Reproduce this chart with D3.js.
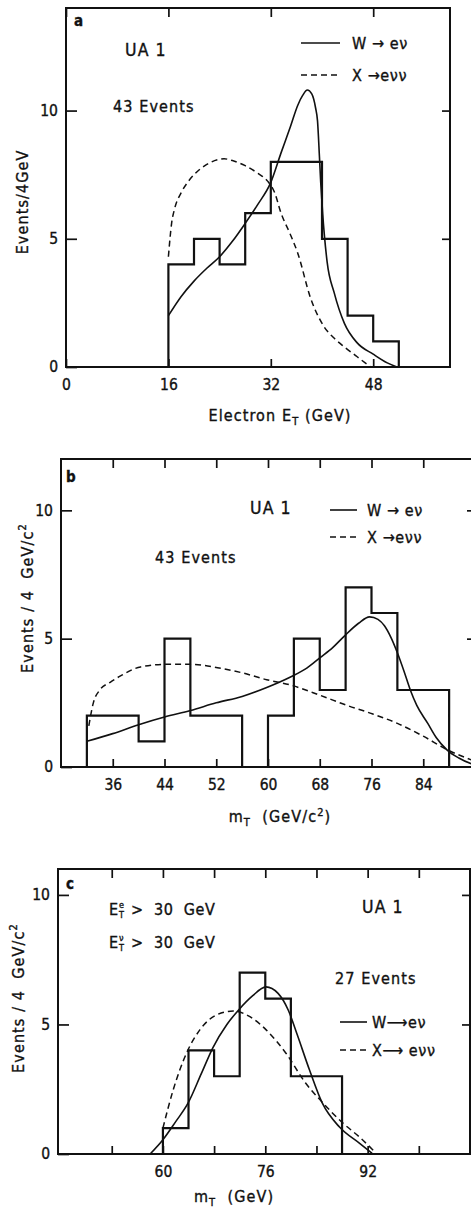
<!DOCTYPE html>
<html>
<head>
<meta charset="utf-8">
<script src="https://cdn.jsdelivr.net/npm/d3@7"></script>
<style>
  html, body { margin: 0; padding: 0; background: #fff; }
  svg text { font-family: "Liberation Sans Narrow", "DejaVu Sans Condensed", "Roboto Condensed", "Liberation Sans", sans-serif; font-stretch: condensed; fill: #111; stroke: #111; stroke-width: 0.35px; white-space: pre; }
  svg text.lbl { letter-spacing: 1.1px; }
  svg text.leg { letter-spacing: 0.6px; }
</style>
</head>
<body>
<svg id="chart" width="471" height="1211"></svg>
<script>
// ---------- Panel a : Electron E_T ----------
const aBins   = [16, 20, 24, 28, 32, 36, 40, 44, 48];
const aCounts = [4, 5, 4, 6, 8, 8, 5, 2, 1];
const aWcurve = [[16,2.0],[18,2.75],[20,3.35],[22,3.85],[24,4.3],[26,4.9],[28,5.6],[30,6.35],[32,7.2],[33.6,8.35],[35.1,9.4],[36.2,10.2],[37,10.6],[37.7,10.8],[38.4,10.65],[39,10.1],[39.3,9.6],[39.6,8.2],[39.8,7.2],[40.1,6.0],[40.8,4.1],[41.9,2.9],[43.5,1.7],[45.5,0.94],[48,0.5],[50.2,0.16],[51.7,0.0]];
const aXcurve = [[16,4.3],[16.5,5.6],[17,6.2],[18,6.8],[19,7.2],[20,7.5],[22,7.9],[24,8.1],[24.7,8.12],[26,8.05],[28,7.85],[30,7.55],[31.5,7.25],[32.6,6.8],[33.6,6.0],[35,5.2],[36.2,4.45],[38.2,2.7],[40.3,1.58],[42,1.1],[43.5,0.78],[45.5,0.4],[46.8,0.15],[47.6,0.0]];
const aXTickMarks  = [0, 16, 32, 48];
const aXTickLabels = [0, 16, 32, 48];
const aYTicks = [0, 5, 10];
const aLegend = ["W \u2192 e\u03bd", "X \u2192e\u03bd\u03bd"];

// ---------- Panel b : m_T (GeV/c^2) ----------
const bBins   = [32, 36, 40, 44, 48, 52, 56, 60, 64, 68, 72, 76, 80, 84];
const bCounts = [2, 2, 1, 5, 2, 2, 0, 2, 5, 3, 7, 6, 3, 3];
const bWcurve = [[32,1.0],[36,1.3],[40,1.65],[44,1.95],[48,2.2],[52,2.5],[56,2.75],[59.8,3.1],[63.4,3.5],[66,3.85],[68,4.25],[70,4.65],[71.8,5.1],[74,5.6],[75.7,5.85],[77,5.75],[78,5.5],[79,5.05],[80,4.45],[81,3.75],[82,3.0],[83,2.4],[84.7,1.7],[86,1.15],[87.7,0.66],[89.5,0.35],[91.5,0.12],[92,0.08]];
const bXcurve = [[32.3,1.6],[33,2.5],[34,3.0],[35.6,3.3],[37.2,3.55],[40.3,3.9],[44.4,4.0],[48,4.0],[52.2,3.87],[56,3.67],[59.8,3.4],[63.4,3.2],[68,2.8],[72.2,2.4],[75.8,2.1],[80,1.7],[84,1.2],[87.8,0.66],[91.5,0.27],[92,0.22]];
const bXTickMarks  = [36, 44, 52, 60, 68, 76, 84];
const bXTickLabels = [36, 44, 52, 60, 68, 76, 84];
const bYTicks = [0, 5, 10];
const bLegend = ["W \u2192 e\u03bd", "X \u2192e\u03bd\u03bd"];

// ---------- Panel c : m_T (GeV), E_T cuts ----------
const cBins   = [60, 64, 68, 72, 76, 80, 84];
const cCounts = [1, 4, 3, 7, 6, 3, 3];
const cWcurve = [[58,0.0],[60,0.55],[62,1.25],[63.9,1.95],[66,3.1],[67.8,4.1],[70,5.0],[71.8,5.55],[74,6.1],[76.1,6.45],[78,6.2],[79.6,5.55],[81,4.6],[82.9,3.25],[84.9,1.97],[87.6,1.04],[90.7,0.42],[92.7,0.03]];
const cXcurve = [[60,1.0],[61.6,2.47],[63.7,3.9],[65.8,4.8],[68.4,5.37],[71,5.52],[73.6,5.3],[76.1,4.8],[79.2,3.9],[82.3,2.74],[84.9,2.0],[88.1,1.2],[90.7,0.66],[93.3,0.04]];
const cXTickMarks  = [52, 60, 68, 76, 84, 92, 100];
const cXTickLabels = [60, 76, 92];
const cYTicks = [0, 5, 10];
const cLegend = ["W\u27F6e\u03bd", "X\u27F6 e\u03bd\u03bd"];

const binWidth = 4;

const svg = d3.select("#chart");

function drawPanel(p) {
  const x = d3.scaleLinear().domain(p.xDomain).range(p.xRange);
  const y = d3.scaleLinear().domain(p.yDomain).range(p.yRange);
  const g = svg.append("g");
  const [x0, x1] = p.xRange, [y0, y1] = p.yRange;

  // frame
  g.append("rect").attr("x", x0).attr("y", y1).attr("width", x1 - x0).attr("height", y0 - y1)
    .attr("fill", "none").attr("stroke", "#111").attr("stroke-width", 2);

  const fmt = labels => d => labels.includes(d) ? d : "";
  g.append("g").attr("transform", `translate(0,${y0})`)
    .call(d3.axisBottom(x).tickValues(p.xTickMarks).tickSize(-8).tickPadding(12).tickFormat(fmt(p.xTickLabels)));
  g.append("g").attr("transform", `translate(0,${y1})`)
    .call(d3.axisTop(x).tickValues(p.xTickMarks).tickSize(-9).tickFormat(""));
  g.append("g").attr("transform", `translate(${x0},0)`)
    .call(d3.axisLeft(y).tickValues(p.yTicks).tickSize(-11).tickPadding(p.yPad).tickFormat(d3.format("d")));
  g.append("g").attr("transform", `translate(${x1},0)`)
    .call(d3.axisRight(y).tickValues(p.yTicks.filter(v => v > 0)).tickSize(-8).tickFormat(""));

  g.selectAll(".domain").remove();
  g.selectAll(".tick line").attr("stroke", "#111").attr("stroke-width", 1.7);
  g.selectAll(".tick text").attr("font-size", 15.5).attr("fill", "#111");

  // histogram
  const pts = [[p.bins[0], 0]];
  p.bins.forEach((b, i) => pts.push([b, p.counts[i]]));
  const last = p.bins[p.bins.length - 1] + binWidth;
  pts.push([last, p.counts[p.counts.length - 1]]);
  pts.push([last, 0]);
  const step = d3.line().x(d => x(d[0])).y(d => y(d[1])).curve(d3.curveStepAfter);
  g.append("path").attr("d", step(pts)).attr("fill", "none").attr("stroke", "#111").attr("stroke-width", 2.2);

  // curves
  const clipId = "clip" + p.name;
  svg.append("clipPath").attr("id", clipId).append("rect")
    .attr("x", x0).attr("y", y1).attr("width", x1 - x0).attr("height", y0 - y1);
  const smooth = d3.line().x(d => x(d[0])).y(d => y(d[1])).curve(d3.curveMonotoneX);
  g.append("path").attr("d", smooth(p.wCurve)).attr("fill", "none").attr("stroke", "#111")
    .attr("stroke-width", 1.6).attr("clip-path", `url(#${clipId})`);
  g.append("path").attr("d", smooth(p.xCurve)).attr("fill", "none").attr("stroke", "#111")
    .attr("stroke-width", 1.5).attr("stroke-dasharray", "6,4").attr("clip-path", `url(#${clipId})`);

  // panel letter
  g.append("text").attr("x", p.letterPos[0]).attr("y", p.letterPos[1]).attr("font-size", 15)
    .attr("font-weight", "bold").text(p.name);

  // y title
  const yt = g.append("text").attr("class", "lbl")
    .attr("transform", `translate(${p.yTitlePos[0]},${p.yTitlePos[1]}) rotate(-90)`)
    .attr("text-anchor", "middle").attr("font-size", 16);
  p.yTitle(yt);

  // x title
  const xt = g.append("text").attr("class", "lbl").attr("x", p.xTitlePos[0]).attr("y", p.xTitlePos[1])
    .attr("text-anchor", "middle").attr("font-size", 16);
  p.xTitle(xt);

  // legend
  const L = p.legend;
  g.append("line").attr("x1", L.x1).attr("x2", L.x2).attr("y1", L.y[0]).attr("y2", L.y[0])
    .attr("stroke", "#111").attr("stroke-width", 1.6);
  g.append("line").attr("x1", L.x1).attr("x2", L.x2).attr("y1", L.y[1]).attr("y2", L.y[1])
    .attr("stroke", "#111").attr("stroke-width", 1.5).attr("stroke-dasharray", "6,4");
  g.append("text").attr("class", "leg").attr("x", L.tx).attr("y", L.y[0] + 6).attr("font-size", 16).text(p.legendLabels[0]);
  g.append("text").attr("class", "leg").attr("x", L.tx).attr("y", L.y[1] + 6).attr("font-size", 16).text(p.legendLabels[1]);

  // annotations
  p.notes.forEach(n => g.append("text").attr("class", "lbl").attr("x", n.x).attr("y", n.y)
    .attr("font-size", n.size || 16).text(n.t));
  if (p.extra) p.extra(g);
}

drawPanel({
  name: "a", xDomain: [0, 60], xRange: [66, 450], yDomain: [0, 14], yRange: [367, 8],
  bins: aBins, counts: aCounts, wCurve: aWcurve, xCurve: aXcurve,
  xTickMarks: aXTickMarks, xTickLabels: aXTickLabels, yTicks: aYTicks, yPad: 8,
  letterPos: [74, 26], yTitlePos: [28, 202],
  yTitle: t => t.text("Events/4GeV"),
  xTitlePos: [280, 421],
  xTitle: t => { t.append("tspan").text("Electron E"); t.append("tspan").attr("dy", 4).attr("font-size", 11).text("T"); t.append("tspan").attr("dy", -4).text(" (GeV)"); },
  legend: { x1: 301, x2: 340, tx: 352, y: [43, 75] }, legendLabels: aLegend,
  notes: [{ x: 125, y: 56, t: "UA 1", size: 17.5 }, { x: 113, y: 112, t: "43 Events" }]
});

drawPanel({
  name: "b", xDomain: [28, 92], xRange: [61, 475], yDomain: [0, 12], yRange: [767, 459],
  bins: bBins, counts: bCounts, wCurve: bWcurve, xCurve: bXcurve,
  xTickMarks: bXTickMarks, xTickLabels: bXTickLabels, yTicks: bYTicks, yPad: 8,
  letterPos: [66, 482], yTitlePos: [33, 598],
  yTitle: t => { t.text("Events / 4  GeV/c"); t.append("tspan").attr("dy", -7).attr("font-size", 11).text("2"); },
  xTitlePos: [280, 822],
  xTitle: t => { t.append("tspan").text("m"); t.append("tspan").attr("dy", 4).attr("font-size", 11).text("T"); t.append("tspan").attr("dy", -4).text("  (GeV/c"); t.append("tspan").attr("dy", -6).attr("font-size", 11).text("2"); t.append("tspan").attr("dy", 6).text(")"); },
  legend: { x1: 330, x2: 357, tx: 367, y: [510, 537] }, legendLabels: bLegend,
  notes: [{ x: 250, y: 514, t: "UA 1", size: 17.5 }, { x: 155, y: 563, t: "43 Events" }]
});

drawPanel({
  name: "c", xDomain: [43.6, 108], xRange: [58, 470], yDomain: [0, 11], yRange: [1154, 869],
  bins: cBins, counts: cCounts, wCurve: cWcurve, xCurve: cXcurve,
  xTickMarks: cXTickMarks, xTickLabels: cXTickLabels, yTicks: cYTicks, yPad: 8,
  letterPos: [66, 889], yTitlePos: [24, 998],
  yTitle: t => { t.text("Events / 4  GeV/c"); t.append("tspan").attr("dy", -7).attr("font-size", 11).text("2"); },
  xTitlePos: [234, 1202],
  xTitle: t => { t.append("tspan").text("m"); t.append("tspan").attr("dy", 4).attr("font-size", 11).text("T"); t.append("tspan").attr("dy", -4).text("  (GeV)"); },
  legend: { x1: 340, x2: 367, tx: 372, y: [1022, 1050] }, legendLabels: cLegend,
  notes: [{ x: 362, y: 913, t: "UA 1", size: 17.5 }, { x: 335, y: 984, t: "27 Events" }],
  extra: g => {
    [[915, "e"], [948, "\u03bd"]].forEach(([yy, sup]) => {
      g.append("text").attr("x", 109).attr("y", yy).attr("font-size", 16).text("E");
      g.append("text").attr("x", 119).attr("y", yy - 7).attr("font-size", 9).text(sup);
      g.append("text").attr("x", 119).attr("y", yy + 3).attr("font-size", 9).text("T");
      g.append("text").attr("class", "leg").attr("x", 131).attr("y", yy).attr("font-size", 16).text(">  30  GeV");
    });
  }
});
</script>
</body>
</html>
